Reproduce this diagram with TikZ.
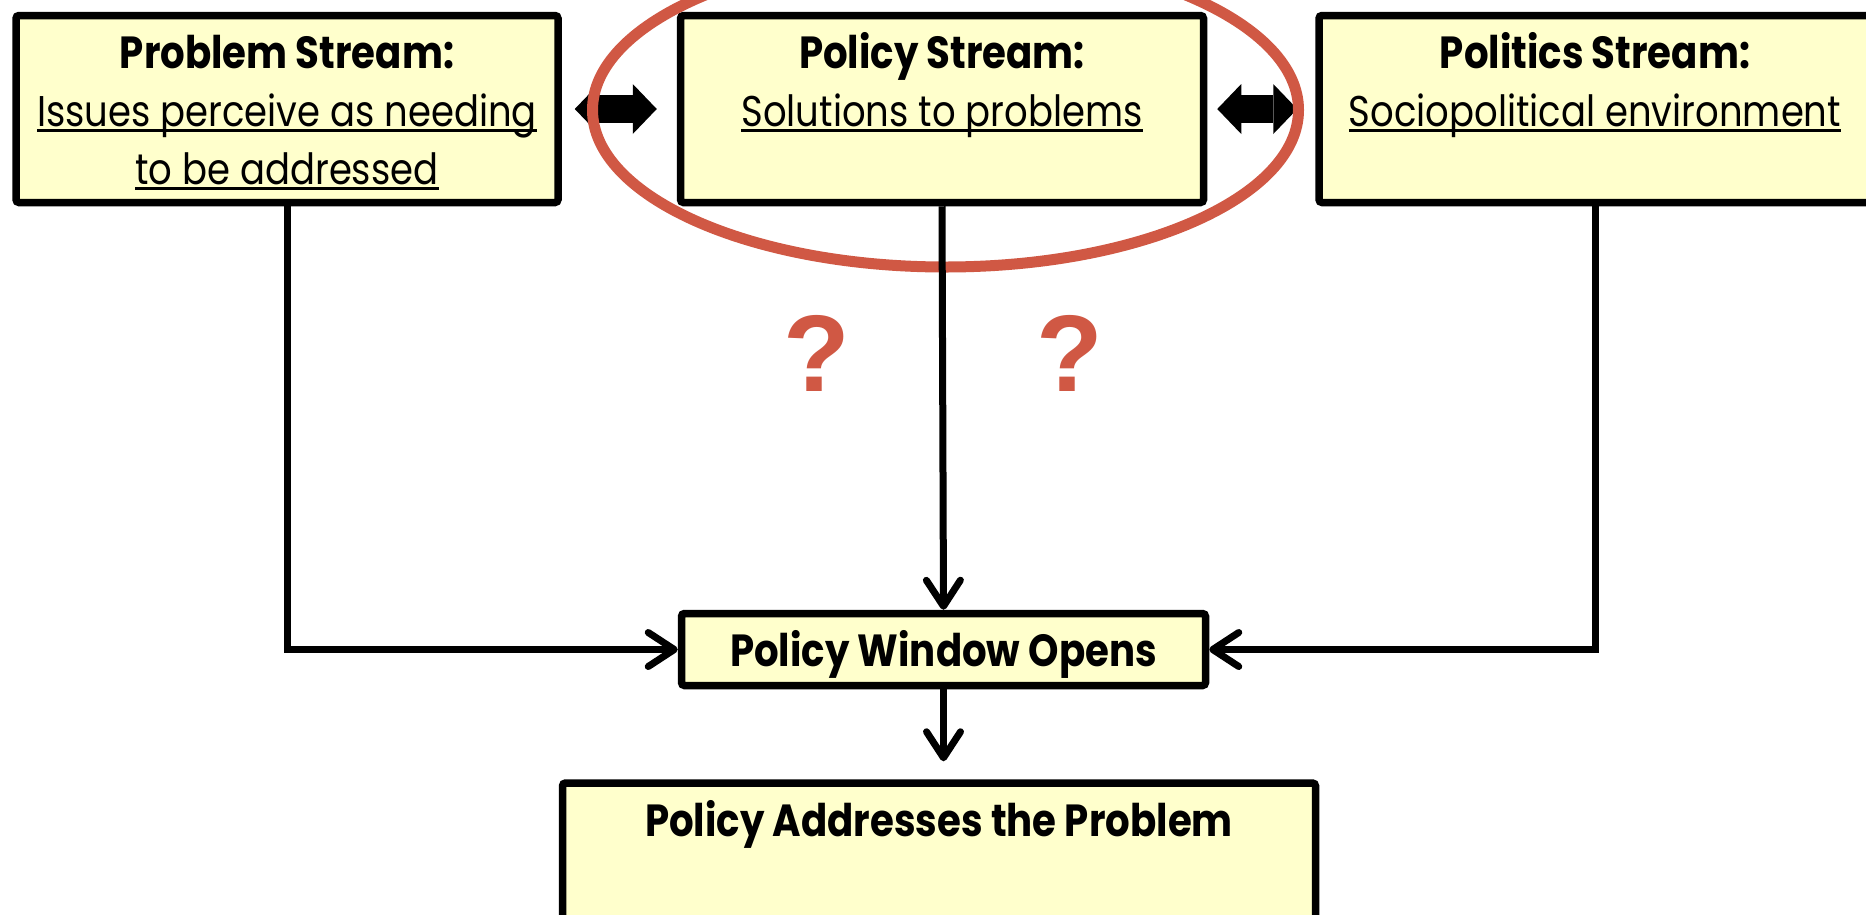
\documentclass[tikz,border=0pt]{standalone}
\usepackage{fontspec}
\setmainfont{Poppins}[FakeStretch=0.86]
\newfontfamily\markfont{Liberation Sans}
\usetikzlibrary{positioning,arrows.meta}
\definecolor{PaleYellow}{RGB}{255,255,204}
\definecolor{MarkRed}{RGB}{208,88,68}
% every text line carries the same strut, so the boxes line up
\newcommand\boxstrut{\rule[-12pt]{0pt}{58pt}}
\newcommand\heading[1]{{\fontsize{45}{58}\selectfont\bfseries #1}}
\newsavebox\ulbox
\newcommand\ultext[1]{\sbox\ulbox{#1}\rlap{\rule[-6pt]{\wd\ulbox}{3pt}}\usebox\ulbox}
\tikzset{
  streambox/.style={draw=black,fill=PaleYellow,line width=7.5pt,rounded corners=3pt,
    inner sep=0pt,align=center,font=\fontsize{43}{58}\selectfont},
  flow/.style={-{Straight Barb[length=26pt,width=34pt,round]},line width=7pt,draw=black},
  duplex/.style={{Triangle[length=24pt,width=50pt,line width=0pt]}-{Triangle[length=24pt,width=50pt,line width=0pt]},
    line width=28pt,draw=black},
  ring/.style={draw=MarkRed,line width=11pt},
  query/.style={text=MarkRed,inner sep=0pt,font=\fontsize{109}{109}\selectfont\markfont\bfseries}
}

\begin{document}
\begin{tikzpicture}[x=1pt,y=-1pt]
  \useasboundingbox (0,0) rectangle (1866,914);
  \clip (0,0) rectangle (1866,914);
  \fill[white] (0,0) rectangle (1866,914);

  % the three streams
  \node[streambox,minimum width=542pt,minimum height=187pt] (problem) at (287,109) {
    \boxstrut\heading{Problem Stream:}\\
    \boxstrut\ultext{Issues perceive as needing}\\
    \boxstrut\ultext{to be addressed}};
  \node[streambox,minimum width=523pt,minimum height=187pt] (policy) at (942,109) {
    \boxstrut\heading{Policy Stream:}\\
    \boxstrut\ultext{Solutions to problems}\\
    \boxstrut};
  \node[streambox,minimum width=552pt,minimum height=187pt] (politics) at (1595,109) {
    \boxstrut\heading{Politics Stream:}\\
    \boxstrut\ultext{Sociopolitical environment}\\
    \boxstrut};

  % where they meet
  \node[streambox,minimum width=524pt,minimum height=72pt] (window) at (943.5,649.5) {
    \boxstrut\heading{Policy Window Opens}};
  \node[streambox,minimum width=753pt,minimum height=188pt] (outcome) at (939,877) {
    \boxstrut\heading{Policy Addresses the Problem}\\
    \boxstrut\\
    \boxstrut};

  \draw[duplex,shorten <=13pt,shorten >=20pt] (problem.east) -- (policy.west);
  \draw[duplex,shorten <=10pt,shorten >=18pt] (policy.east) -- (politics.west);

  \draw[ring] (policy.center) ++(3.5,1) ellipse [x radius=353pt,y radius=157pt];

  \draw[flow] (problem.south) |- (window.west);
  \draw[flow] (policy.south) -- (window.north);
  \draw[flow] (politics.south) |- (window.east);
  \draw[flow,shorten >=18pt] (window.south) -- (window.south |- outcome.north);

  \node[query] (qleft) at (817,353) {?};
  \node[query] (qright) at (1070,353) {?};
\end{tikzpicture}
\end{document}
